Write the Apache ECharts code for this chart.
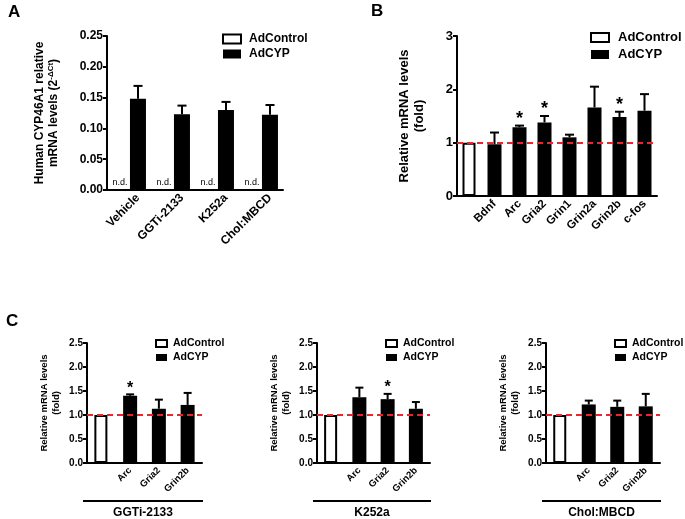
<!DOCTYPE html>
<html><head><meta charset="utf-8">
<script src="https://cdn.jsdelivr.net/npm/echarts@6/dist/echarts.min.js"></script>
<style>html,body{margin:0;padding:0;background:#fff}#c{width:685px;height:519px}</style>
</head><body><div id="c"></div>
<script>
const FONT = '"Liberation Sans", Arial, Helvetica, sans-serif';
// ---------- Panel A ----------
const catsA = ['Vehicle', 'GGTi-2133', 'K252a', 'Chol:MBCD'];
const ctrlA = [0, 0, 0, 0];               // not detected
const cypA = [0.148, 0.123, 0.130, 0.122];
const cypAErrTop = [0.169, 0.137, 0.143, 0.138];
// ---------- Panel B ----------
const catsB = ['', 'Bdnf', 'Arc', 'Gria2', 'Grin1', 'Grin2a', 'Grin2b', 'c-fos'];
const ctrlB = [1, null, null, null, null, null, null, null];
const cypB = [null, 0.97, 1.29, 1.38, 1.10, 1.66, 1.48, 1.60];
const cypBErrTop = [null, 1.19, 1.32, 1.50, 1.15, 2.05, 1.58, 1.91];
const sigB = [0, 0, 1, 1, 0, 0, 1, 0];
// ---------- Panel C ----------
const catsC = ['', 'Arc', 'Gria2', 'Grin2b'];
const groupsC = ['GGTi-2133', 'K252a', 'Chol:MBCD'];
const ctrlC = [1, null, null, null];
const cypC1 = [null, 1.40, 1.13, 1.21];
const errC1 = [null, 1.43, 1.32, 1.46];
const sigC1 = [0, 1, 0, 0];
const cypC2 = [null, 1.37, 1.33, 1.13];
const errC2 = [null, 1.57, 1.44, 1.27];
const sigC2 = [0, 0, 1, 0];
const cypC3 = [null, 1.22, 1.17, 1.18];
const errC3 = [null, 1.30, 1.30, 1.44];
const sigC3 = [0, 0, 0, 0];

const chart = echarts.init(document.getElementById('c'), null, {renderer: 'canvas'});

function errSeries(ax, means, tops, sigs, opt) {
  const data = [];
  means.forEach((m, i) => { if (m != null) data.push([i, m, tops[i], sigs ? sigs[i] : 0]); });
  return {
    type: 'custom', xAxisIndex: ax, yAxisIndex: ax, z: 5, silent: true,
    data: data, encode: {x: 0, y: [1, 2]},
    renderItem: function (params, api) {
      const i = api.value(0);
      const p0 = api.coord([i, api.value(1)]);
      const p1 = api.coord([i, api.value(2)]);
      const x = p0[0] + opt.dx;
      const cw = opt.cap / 2;
      const ch = [
        {type: 'line', shape: {x1: x, y1: p0[1], x2: x, y2: p1[1]}, style: {stroke: '#000', lineWidth: 2}},
        {type: 'line', shape: {x1: x - cw, y1: p1[1], x2: x + cw, y2: p1[1]}, style: {stroke: '#000', lineWidth: 2}}
      ];
      if (api.value(3)) ch.push({type: 'text', x: x, y: p1[1] + opt.starDy,
        style: {text: '*', font: 'bold ' + opt.star + 'px ' + FONT, align: 'center', verticalAlign: 'middle', fill: '#000'}});
      return {type: 'group', children: ch};
    }
  };
}

const axLine = {show: true, lineStyle: {color: '#000', width: 2}};
function yAx(grid, max, interval, digits, fs, name, nameFs, gap, rich) {
  return {
    type: 'value', gridIndex: grid, min: 0, max: max, interval: interval,
    axisLine: axLine, axisTick: {show: true, length: 4, lineStyle: {color: '#000', width: 2}},
    splitLine: {show: false},
    axisLabel: {color: '#000', fontFamily: FONT, fontWeight: 'bold', fontSize: fs, margin: 4,
      formatter: v => v.toFixed(digits)},
    name: name, nameLocation: 'middle', nameGap: gap, nameRotate: 90,
    nameTextStyle: {color: '#000', fontFamily: FONT, fontWeight: 'bold', fontSize: nameFs, lineHeight: nameFs + 2, rich: rich || {}}
  };
}
function xAx(grid, cats, fs, showLine, showLabel) {
  return {
    type: 'category', gridIndex: grid, data: cats,
    axisLine: showLine ? axLine : {show: false}, axisTick: {show: false},
    axisLabel: {show: showLabel, color: '#000', fontFamily: FONT, fontWeight: 'bold', fontSize: fs, rotate: 45, margin: 6, interval: 0}
  };
}
const redLine = {silent: true, symbol: 'none', label: {show: false},
  lineStyle: {color: '#e8262d', type: [6, 4], width: 2}, data: [{yAxis: 1}]};
const whiteBar = {color: '#fff', borderColor: '#000', borderWidth: 2};
const blackBar = {color: '#000'};

const Ctops = 343, Cheight = 120;
const cLefts = [87, 317, 546], cWidths = [115, 113, 114];

const legendData = [
  {name: 'AdControl', itemStyle: {color: '#fff', borderColor: '#000', borderWidth: 2}},
  {name: 'AdCYP', itemStyle: {color: '#000', borderWidth: 0}}
];
function legend(left, top, w, h, fs, gap, pad) {
  return {left: left, top: top, orient: 'vertical', itemWidth: w, itemHeight: h, itemGap: gap, icon: 'rect',
    selectedMode: false, padding: 0, data: legendData,
    textStyle: {color: '#000', fontFamily: FONT, fontWeight: 'bold', fontSize: fs, padding: [0, 0, 0, pad]}};
}

const grids = [
  {left: 107, top: 36, width: 176, height: 154},
  {left: 116, top: 36, width: 176, height: 154},
  {left: 457, top: 36, width: 200, height: 160}
];
cLefts.forEach((l, k) => grids.push({left: l, top: Ctops, width: cWidths[k], height: Cheight}));

const xAxes = [
  xAx(0, catsA, 12, true, false),
  xAx(1, catsA, 12, false, true),
  xAx(2, catsB, 11.5, true, true),
  xAx(3, catsC, 9.5, true, true),
  xAx(4, catsC, 9.5, true, true),
  xAx(5, catsC, 9.5, true, true)
];
const yAxes = [
  yAx(0, 0.25, 0.05, 2, 12, 'Human CYP46A1 relative\nmRNA levels (2{sup|-ΔCt})', 12, 46,
    {sup: {fontFamily: FONT, fontWeight: 'bold', fontSize: 8, verticalAlign: 'top', padding: [0, 0, 6, 0]}}),
  {type: 'value', gridIndex: 1, show: false, min: 0, max: 0.25},
  yAx(2, 3, 1, 0, 13, 'Relative mRNA levels\n(fold)', 13, 30),
  yAx(3, 2.5, 0.5, 1, 10, 'Relative mRNA levels\n(fold)', 9.5, 25),
  yAx(4, 2.5, 0.5, 1, 10, 'Relative mRNA levels\n(fold)', 9.5, 25),
  yAx(5, 2.5, 0.5, 1, 10, 'Relative mRNA levels\n(fold)', 9.5, 25)
];

const series = [
  {name: 'AdControl', type: 'bar', xAxisIndex: 0, yAxisIndex: 0, data: ctrlA, barWidth: 16, barGap: '12%',
    itemStyle: {color: '#fff'},
    label: {show: true, position: 'top', distance: 3, formatter: 'n.d.', color: '#000', fontFamily: FONT, fontSize: 9}},
  {name: 'AdCYP', type: 'bar', xAxisIndex: 0, yAxisIndex: 0, data: cypA, barWidth: 16, barGap: '12%', itemStyle: blackBar},
  errSeries(0, cypA, cypAErrTop, null, {dx: 9, cap: 9, star: 16, starDy: -6}),
  {name: 'AdControl', type: 'bar', xAxisIndex: 2, yAxisIndex: 2, data: ctrlB, barWidth: 13, barGap: '-100%', itemStyle: whiteBar},
  {name: 'AdCYP', type: 'bar', xAxisIndex: 2, yAxisIndex: 2, data: cypB, barWidth: 14, barGap: '-100%', itemStyle: blackBar, markLine: redLine},
  errSeries(2, cypB, cypBErrTop, sigB, {dx: 0, cap: 9, star: 18, starDy: -7})
];
[[cypC1, errC1, sigC1], [cypC2, errC2, sigC2], [cypC3, errC3, sigC3]].forEach((d, k) => {
  const ax = 3 + k;
  series.push({name: 'AdControl', type: 'bar', xAxisIndex: ax, yAxisIndex: ax, data: ctrlC, barWidth: 13, barGap: '-100%', itemStyle: whiteBar});
  series.push({name: 'AdCYP', type: 'bar', xAxisIndex: ax, yAxisIndex: ax, data: d[0], barWidth: 14, barGap: '-100%', itemStyle: blackBar, markLine: redLine});
  series.push(errSeries(ax, d[0], d[1], d[2], {dx: 0, cap: 8, star: 16, starDy: -6}));
});

const graphics = [
  {type: 'text', left: 8, top: 4, style: {text: 'A', font: 'bold 17px ' + FONT, fill: '#000'}},
  {type: 'text', left: 371, top: 3, style: {text: 'B', font: 'bold 17px ' + FONT, fill: '#000'}},
  {type: 'text', left: 6, top: 313, style: {text: 'C', font: 'bold 17px ' + FONT, fill: '#000'}}
];
cLefts.forEach((l, k) => {
  const x1 = l - 4, x2 = l + cWidths[k] + 1;
  graphics.push({type: 'line', shape: {x1: x1, y1: 501, x2: x2, y2: 501}, style: {stroke: '#000', lineWidth: 2}});
  graphics.push({type: 'text', x: (x1 + x2) / 2, y: 513,
    style: {text: groupsC[k], font: 'bold 12px ' + FONT, fill: '#000', align: 'center', verticalAlign: 'middle'}});
});

chart.setOption({
  animation: false,
  backgroundColor: '#fff',
  textStyle: {fontFamily: FONT},
  grid: grids, xAxis: xAxes, yAxis: yAxes, series: series,
  legend: [
    legend(222, 33, 18, 9, 12, 3, 3),
    legend(590, 31, 18, 9, 13, 4, 4),
    legend(cLefts[0] + 68, 338, 11, 7, 10.5, 3, 1),
    legend(cLefts[1] + 68, 338, 11, 7, 10.5, 3, 1),
    legend(cLefts[2] + 68, 338, 11, 7, 10.5, 3, 1)
  ],
  graphic: graphics
});
</script></body></html>
